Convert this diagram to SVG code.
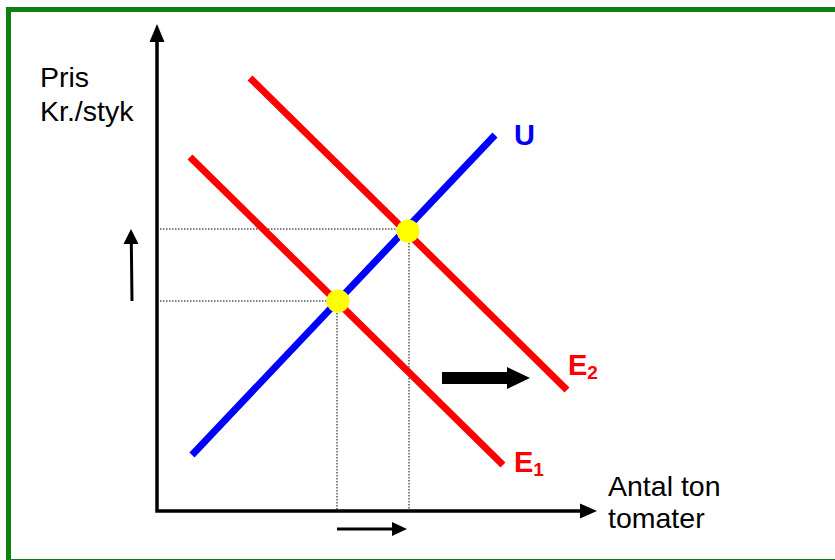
<svg xmlns="http://www.w3.org/2000/svg" width="835" height="560" viewBox="0 0 835 560">
<style>
.lbl{font-family:"Liberation Sans",Arial,sans-serif;font-size:28.5px;fill:#000}
.cl{font-family:"Liberation Sans",Arial,sans-serif;font-size:29px;font-weight:bold}
.sub{font-size:19px}
.dot{stroke:#000;stroke-width:1;stroke-dasharray:1.5 1.5;fill:none}
.ax{stroke:#000;stroke-width:3.5;fill:none}
</style>
<rect x="0" y="0" width="835" height="560" fill="#fff"/>
<rect x="8.5" y="9.5" width="840" height="552" fill="none" stroke="#0e8012" stroke-width="5"/>
<g id="connectors">
  <line class="dot" x1="160" y1="301" x2="338" y2="301"/>
  <line class="dot" x1="160" y1="229" x2="408" y2="229"/>
  <line class="dot" x1="337" y1="301" x2="337" y2="510"/>
  <line class="dot" x1="409" y1="231" x2="409" y2="510"/>
</g>
<g id="axes">
  <polyline class="ax" points="157,40 157,511 582,511"/>
  <polygon points="157,24 149.5,42 164.5,42" fill="#000"/>
  <polygon points="597,511 580,503.5 580,518.5" fill="#000"/>
</g>
<g id="curve-U">
  <line x1="192" y1="455" x2="495" y2="135" stroke="#0000ff" stroke-width="7"/>
  <text class="cl" x="514" y="145" fill="#0000ff">U</text>
</g>
<g id="curve-E1">
  <line x1="190" y1="157" x2="503" y2="465" stroke="#ff0000" stroke-width="7"/>
  <text class="cl" x="514" y="472" fill="#ff0000">E<tspan class="sub" dy="4">1</tspan></text>
</g>
<g id="curve-E2">
  <line x1="250" y1="78" x2="567" y2="390" stroke="#ff0000" stroke-width="7"/>
  <text class="cl" x="568" y="375" fill="#ff0000">E<tspan class="sub" dy="4">2</tspan></text>
</g>
<g id="eq1"><circle cx="338" cy="301" r="11.5" fill="#ffff00"/></g>
<g id="eq2"><circle cx="408" cy="231" r="11.5" fill="#ffff00"/></g>
<g id="arrow-up">
  <line x1="132" y1="301" x2="131.3" y2="242" stroke="#000" stroke-width="3"/>
  <polygon points="131,229 123.5,244 138.5,244" fill="#000"/>
</g>
<g id="arrow-shift">
  <rect x="442" y="372" width="66" height="12" fill="#000"/>
  <polygon points="530,378 507,367 507,389" fill="#000"/>
</g>
<g id="arrow-right">
  <line x1="337" y1="529" x2="394" y2="529" stroke="#000" stroke-width="3"/>
  <polygon points="407,529 392,522 392,536" fill="#000"/>
</g>
<g id="label-y">
  <text class="lbl" x="40" y="87">Pris</text>
  <text class="lbl" x="40" y="121">Kr./styk</text>
</g>
<g id="label-x">
  <text class="lbl" x="608" y="496">Antal ton</text>
  <text class="lbl" x="608" y="528">tomater</text>
</g>
</svg>
